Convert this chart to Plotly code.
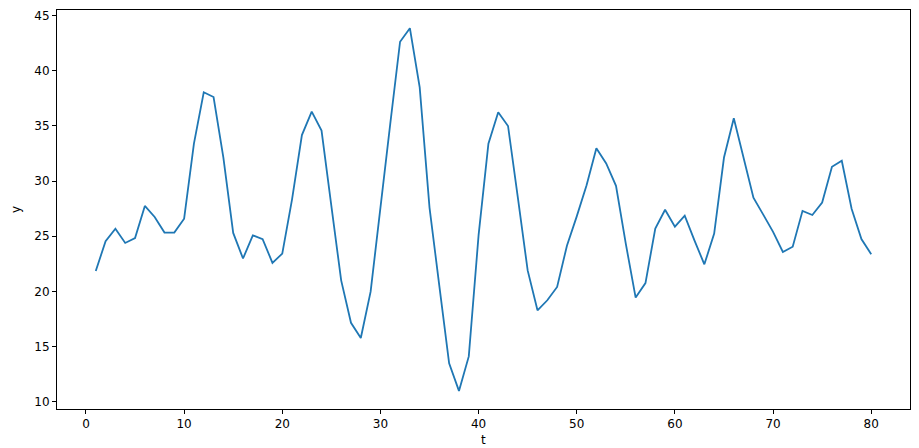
import plotly.graph_objects as go

t = list(range(1, 81))
y = [21.85, 24.55, 25.68, 24.39, 24.83, 27.75, 26.75, 25.33, 25.33, 26.59,
     33.4, 38.06, 37.63, 32.14, 25.3, 22.98, 25.08, 24.74, 22.58, 23.42,
     28.37, 34.18, 36.31, 34.58, 27.75, 21.0, 17.15, 15.77, 19.97, 27.8,
     35.2, 42.64, 43.87, 38.5, 27.6, 20.5, 13.48, 10.97, 14.1, 25.1,
     33.4, 36.25, 35.0, 28.5, 21.9, 18.28, 19.19, 20.4, 24.14, 26.8,
     29.63, 32.98, 31.6, 29.57, 24.3, 19.44, 20.75, 25.7, 27.4, 25.87,
     26.87, 24.6, 22.45, 25.24, 32.14, 35.7, 32.14, 28.5, 26.96, 25.4,
     23.57, 24.05, 27.3, 26.93, 28.06, 31.3, 31.85, 27.5, 24.74, 23.36]

fig = go.Figure()
fig.add_trace(go.Scatter(x=t, y=y, mode="lines",
                         line=dict(color="#1f77b4", width=1.8)))

ax = dict(showgrid=False, zeroline=False, showline=True, linecolor="black",
          linewidth=1, mirror=True, ticks="outside", ticklen=4,
          tickcolor="black", tickfont=dict(size=12, color="black"),
          automargin=False)

fig.update_xaxes(range=[-2.95, 83.95], tickvals=list(range(0, 81, 10)), **ax)
fig.update_yaxes(range=[9.33, 45.52], tickvals=list(range(10, 46, 5)),
                 title=dict(text="y", font=dict(size=12, color="black"), standoff=11),
                 **ax)

# x label placed by hand under the tick labels
fig.add_annotation(text="t", x=0.5, y=0, xref="paper", yref="paper",
                   yanchor="top", yshift=-22, showarrow=False,
                   font=dict(size=12, color="black"))

# page body has an 8px margin, so shrink the figure by that much
fig.update_layout(width=911, height=440, showlegend=False,
                  plot_bgcolor="white", paper_bgcolor="white",
                  font=dict(family="DejaVu Sans", size=12, color="black"),
                  margin=dict(l=49, r=9, t=2, b=39, autoexpand=False))

fig.write_html("out.html")
